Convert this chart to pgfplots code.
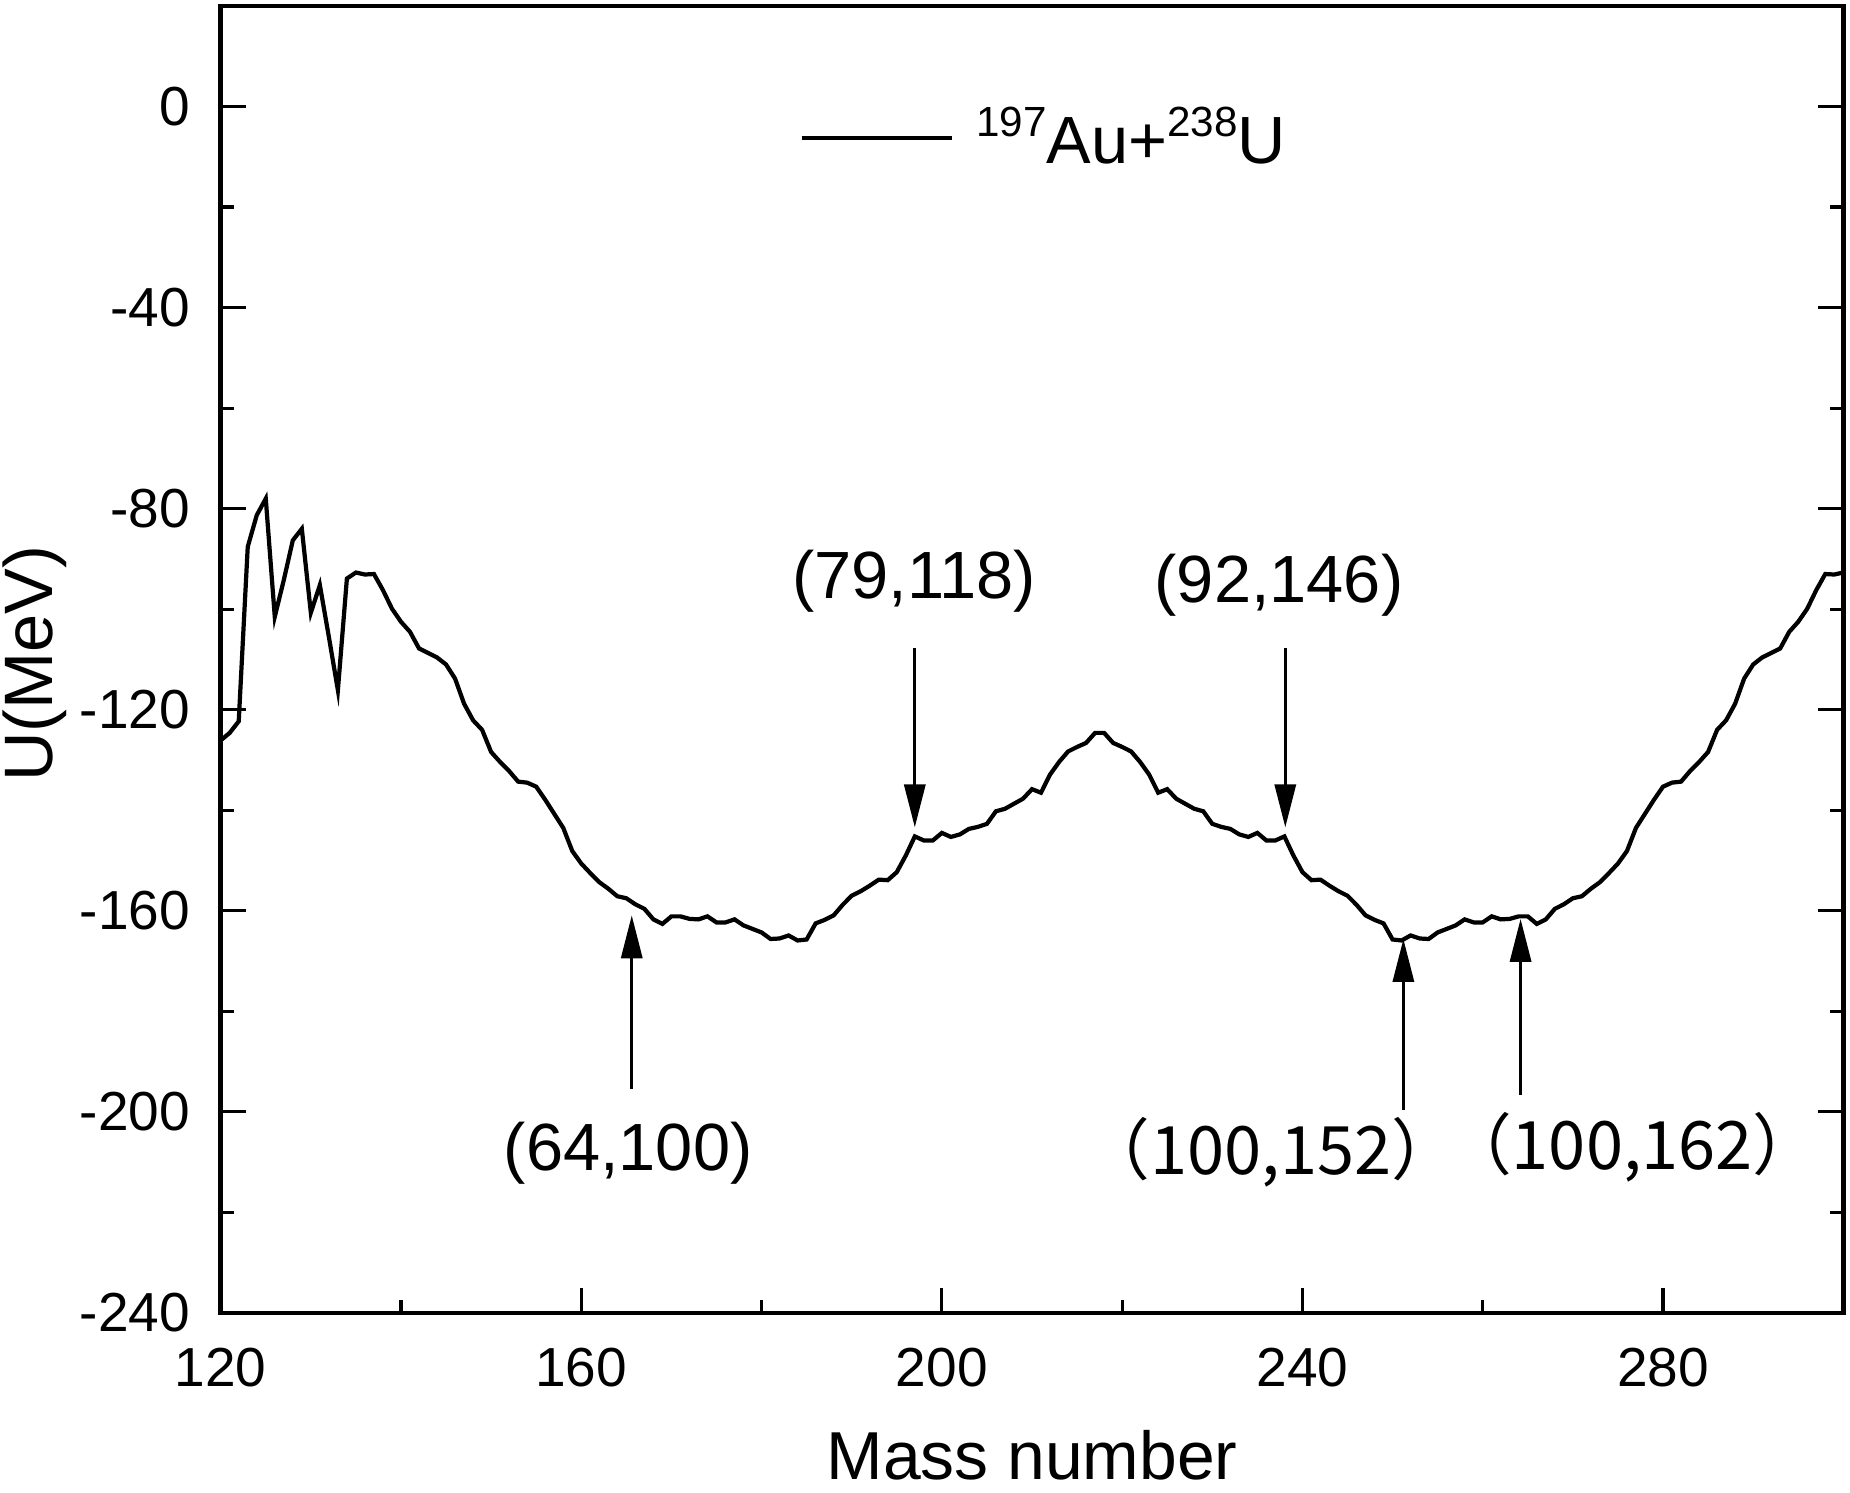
\documentclass[border=0pt]{standalone}
\usepackage{fontspec}
\setmainfont{Liberation Sans}
\newfontfamily\cjk{Noto Sans CJK SC}
\usepackage{pgfplots}
\usepackage{pgfplotstable}
\pgfplotsset{compat=1.18}
\usetikzlibrary{arrows.meta}
\newcommand{\sups}[1]{\raisebox{0.41em}{\fontsize{12}{14}\selectfont #1}}

\pgfplotstableread{
A U
120 -126.1
121 -124.6
122 -122.3
123 -87.6
124 -81.3
125 -78.0
126 -101.5
127 -94.2
128 -86.3
129 -84.0
130 -100.7
131 -95.2
132 -105.5
133 -116.1
134 -93.9
135 -92.7
136 -93.1
137 -93.0
138 -96.2
139 -99.9
140 -102.5
141 -104.5
142 -107.8
143 -108.7
144 -109.6
145 -111.0
146 -113.8
147 -118.8
148 -122.1
149 -124.0
150 -128.4
151 -130.4
152 -132.2
153 -134.3
154 -134.5
155 -135.3
156 -137.9
157 -140.7
158 -143.5
159 -148.1
160 -150.6
161 -152.5
162 -154.3
163 -155.6
164 -157.1
165 -157.5
166 -158.7
167 -159.6
168 -161.7
169 -162.6
170 -161.1
171 -161.1
172 -161.6
173 -161.7
174 -161.1
175 -162.3
176 -162.3
177 -161.7
178 -162.9
179 -163.6
180 -164.3
181 -165.6
182 -165.5
183 -164.9
184 -165.9
185 -165.7
186 -162.5
187 -161.8
188 -160.9
189 -158.8
190 -157.0
191 -156.1
192 -155.0
193 -153.8
194 -153.9
195 -152.3
196 -149.0
197 -145.2
198 -146.0
199 -146.0
200 -144.5
201 -145.3
202 -144.8
203 -143.7
204 -143.3
205 -142.7
206 -140.2
207 -139.7
208 -138.7
209 -137.7
210 -135.8
211 -136.5
212 -132.9
213 -130.4
214 -128.3
215 -127.4
216 -126.6
217 -124.6
218 -124.6
219 -126.6
220 -127.4
221 -128.3
222 -130.4
223 -132.9
224 -136.5
225 -135.8
226 -137.7
227 -138.7
228 -139.7
229 -140.2
230 -142.7
231 -143.3
232 -143.7
233 -144.8
234 -145.3
235 -144.5
236 -146.0
237 -146.0
238 -145.2
239 -149.0
240 -152.3
241 -153.9
242 -153.8
243 -155.0
244 -156.1
245 -157.0
246 -158.8
247 -160.9
248 -161.8
249 -162.5
250 -165.7
251 -165.9
252 -164.9
253 -165.5
254 -165.6
255 -164.3
256 -163.6
257 -162.9
258 -161.7
259 -162.3
260 -162.3
261 -161.1
262 -161.7
263 -161.6
264 -161.1
265 -161.1
266 -162.6
267 -161.7
268 -159.6
269 -158.7
270 -157.5
271 -157.1
272 -155.6
273 -154.3
274 -152.5
275 -150.6
276 -148.1
277 -143.5
278 -140.7
279 -137.9
280 -135.3
281 -134.5
282 -134.3
283 -132.2
284 -130.4
285 -128.4
286 -124.0
287 -122.1
288 -118.8
289 -113.8
290 -111.0
291 -109.6
292 -108.7
293 -107.8
294 -104.5
295 -102.5
296 -99.9
297 -96.2
298 -93.0
299 -93.1
300 -92.7
}\curve

\begin{document}
\begin{tikzpicture}
\path[use as bounding box] (-2.207cm,-1.80cm) rectangle (16.293cm,13.13cm);
\begin{axis}[
  at={(0cm,0cm)}, anchor=south west,
  scale only axis,
  width=16.226cm, height=13.07cm,
  xmin=120, xmax=300, ymin=-240, ymax=20,
  axis line style={line width=1.35pt},
  every tick/.style={line width=0.9pt, black},
  tick align=inside,
  major tick length=0.25cm, minor tick length=0.13cm,
  xtick={120,160,200,240,280}, xticklabels={120,160,200,240,280},
  minor xtick={140,180,220,260},
  ytick={-240,-200,-160,-120,-80,-40,0},
  yticklabels={-240,-200,-160,-120,-80,-40,0},
  minor ytick={-220,-180,-140,-100,-60,-20},
  xtick pos=left, ytick pos=both,
  ticklabel style={font=\fontsize{15.65}{18}\selectfont},
  xticklabel style={anchor=north, inner sep=0pt, yshift=-0.34cm},
  yticklabel style={anchor=east, inner sep=0pt, xshift=-0.30cm},
  xlabel={Mass number},
  ylabel={U(MeV)},
  every axis x label/.style={at={(axis description cs:0.5,-0.1277)}, anchor=base, inner sep=0pt, font=\fontsize{19.3}{23}\selectfont},
  every axis y label/.style={at={(axis description cs:-0.1034,0.4966)}, rotate=90, anchor=base, inner sep=0pt, font=\fontsize{19.5}{23}\selectfont},
  legend style={at={(axis cs:184.2,-6.3)}, anchor=west, draw=none, fill=none,
    inner sep=0pt, outer sep=0pt, column sep=0.23cm,
    font=\fontsize{19}{23}\selectfont,
    nodes={inner sep=0pt, outer sep=0pt}},
  legend cell align=left,
  legend image code/.code={\draw[line width=1.1pt] (0cm,0cm) -- (1.5cm,0cm); \path (0cm,0.2cm);},
]
\addplot[black, line width=1.2pt] table[x=A, y=U] {\curve};
\addlegendentry{\sups{197}Au+\sups{238}U}

\tikzset{annarrow/.style={line width=0.95pt, -{Triangle[width=0.21cm,length=0.43cm]}}}
\draw[annarrow] (axis cs:197,-107.8) -- (axis cs:197,-143.4);
\draw[annarrow] (axis cs:238.1,-107.8) -- (axis cs:238.1,-143.4);
\draw[annarrow] (axis cs:165.6,-195.4) -- (axis cs:165.6,-160.9);
\draw[annarrow] (axis cs:251.2,-199.6) -- (axis cs:251.2,-165.6);
\draw[annarrow] (axis cs:264.2,-196.6) -- (axis cs:264.2,-161.6);

\node[anchor=base, font=\fontsize{19}{23}\selectfont] at (axis cs:196.9,-97.8) {(79,118)};
\node[anchor=base, font=\fontsize{19}{23}\selectfont] at (axis cs:237.4,-98.7) {(92,146)};
\node[anchor=base, font=\fontsize{19}{23}\selectfont] at (axis cs:165.2,-211.6) {(64,100)};
\node[anchor=base, font=\cjk\fontsize{19}{23}\selectfont] at (axis cs:236.5,-212.5) {（100,152）};
\node[anchor=base, font=\cjk\fontsize{19}{23}\selectfont] at (axis cs:276.6,-211.5) {（100,162）};
\end{axis}
\end{tikzpicture}
\end{document}
